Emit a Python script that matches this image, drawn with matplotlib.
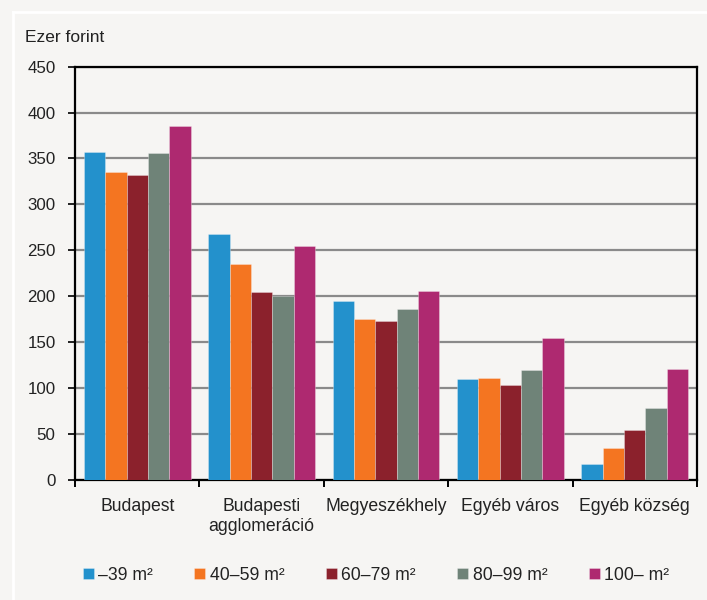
import matplotlib.pyplot as plt
import numpy as np
from matplotlib.lines import Line2D

# Adatok
kategoriak = ["Budapest", "Budapesti\nagglomeráció", "Megyeszékhely", "Egyéb város", "Egyéb község"]
m39 = [357, 268, 195, 110, 17]
m40_59 = [335, 235, 175, 111, 34]
m60_79 = [332, 204, 173, 103, 54]
m80_99 = [356, 200, 186, 119, 78]
m100 = [385, 255, 205, 154, 120]

sorozatok = [m39, m40_59, m60_79, m80_99, m100]
cimkek = ["–39 m²", "40–59 m²", "60–79 m²", "80–99 m²", "100– m²"]
szinek = ["#2391cc", "#f47521", "#8b212c", "#6f8378", "#ae2970"]

plt.rcParams['font.family'] = ['Liberation Sans', 'DejaVu Sans']
bg = "#f6f5f3"
W, H = 707, 600

fig = plt.figure(figsize=(W / 100, H / 100), dpi=100, facecolor=bg)
ax = fig.add_axes([75 / W, 1 - 479.5 / H, 622 / W, 412.8 / H])
ax.set_facecolor(bg)

# fehér keret a panel körül
fig.add_artist(Line2D([12.5 / W, 12.5 / W], [0, 1 - 12 / H], transform=fig.transFigure,
                      color="white", linewidth=2))
fig.add_artist(Line2D([12.5 / W, 1], [1 - 12 / H, 1 - 12 / H], transform=fig.transFigure,
                      color="white", linewidth=2))

x = np.arange(len(kategoriak))
w = 0.172
for i, (s, c, l) in enumerate(zip(sorozatok, szinek, cimkek)):
    ax.bar(x + (i - 2) * w, s, width=w, color=c, label=l, zorder=3,
           edgecolor="#ffffff55", linewidth=0.6)

ax.set_xlim(-0.5, 4.5)
ax.set_ylim(0, 450)
ax.set_yticks(range(0, 451, 50))
ax.yaxis.grid(True, color="#8a8a8a", linewidth=1.6, zorder=0)
ax.set_axisbelow(True)
for sp in ax.spines.values():
    sp.set_color("black")
    sp.set_linewidth(1.6)
ax.tick_params(axis='y', length=5, width=1.4, labelsize=12.2, pad=9, colors="#222222")
ax.tick_params(axis='x', which='major', length=0, labelsize=12.7, pad=13.5, colors="#222222")
ax.set_xticks(x)
ax.set_xticklabels(kategoriak, linespacing=1.2, va='top')
# kis jelek a kategóriák határán
ax.set_xticks(np.arange(-0.5, 4.6, 1), minor=True)
ax.tick_params(axis='x', which='minor', length=5, width=1.4, color="black")

fig.text(25 / W, 1 - 38 / H, "Ezer forint", fontsize=12.5, va='center', ha='left', color="#222222")

fig.legend(*ax.get_legend_handles_labels(), loc='center', bbox_to_anchor=(376 / W, 1 - 575 / H),
           ncol=5, frameon=False, fontsize=12.7, handlelength=0.62, handleheight=0.62,
           handletextpad=0.25, columnspacing=2.35, labelcolor="#222222")

fig.savefig("out.png", dpi=100, facecolor=bg)
